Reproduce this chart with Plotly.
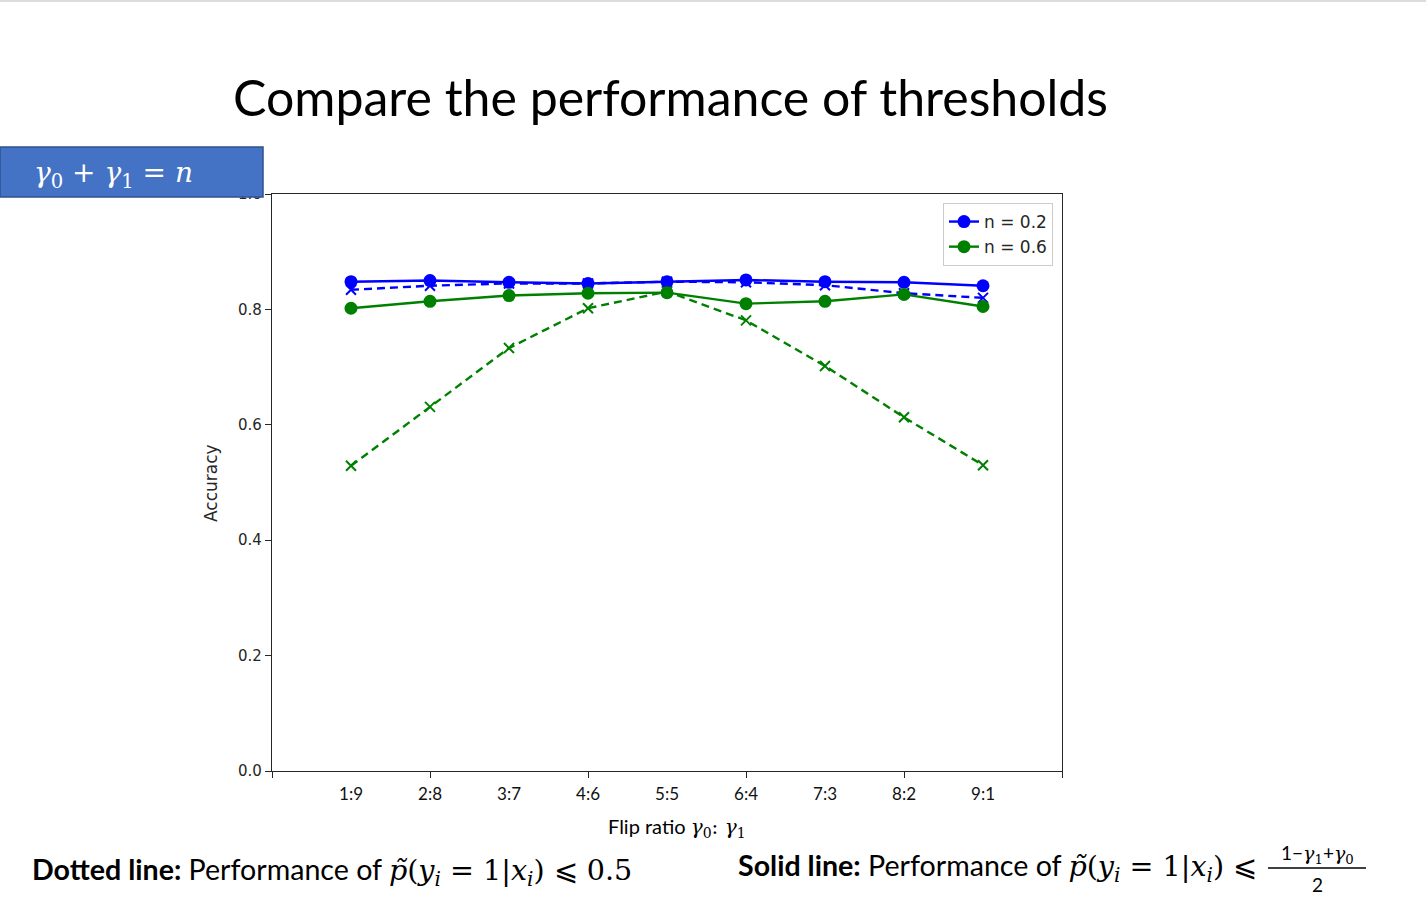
import plotly.graph_objects as go

# flip ratio gamma0:gamma1, points at x = 1..9
ratio_labels = ["1:9", "2:8", "3:7", "4:6", "5:5", "6:4", "7:3", "8:2", "9:1"]
x_pos = [1, 2, 3, 4, 5, 6, 7, 8, 9]

# accuracy
n02_solid = [0.848, 0.850, 0.847, 0.845, 0.848, 0.851, 0.848, 0.847, 0.841]
n02_dotted = [0.834, 0.841, 0.845, 0.845, 0.848, 0.847, 0.842, 0.828, 0.820]
n06_solid = [0.802, 0.814, 0.824, 0.828, 0.829, 0.810, 0.814, 0.826, 0.805]
n06_dotted = [0.529, 0.631, 0.733, 0.802, 0.831, 0.781, 0.702, 0.613, 0.530]

y_ticks = [0.0, 0.2, 0.4, 0.6, 0.8, 1.0]

W, H = 1426, 914
BLUE = "#0000ff"
GREEN = "#008000"
SLIDE_FONT = "Lato"
MATH = "DejaVu Serif"


def px(x):
    return x / W


def py(y):
    return 1 - y / H


fig = go.Figure()

# dotted lines first (underneath), not in the legend
fig.add_trace(go.Scatter(x=x_pos, y=n02_dotted, mode="lines+markers", showlegend=False,
                         line=dict(color=BLUE, width=2.4, dash="8px,5px"),
                         marker=dict(symbol="x-thin-open", size=10, line=dict(color=BLUE, width=2))))
fig.add_trace(go.Scatter(x=x_pos, y=n06_dotted, mode="lines+markers", showlegend=False,
                         line=dict(color=GREEN, width=2.4, dash="8px,5px"),
                         marker=dict(symbol="x-thin-open", size=10, line=dict(color=GREEN, width=2))))
fig.add_trace(go.Scatter(x=x_pos, y=n02_solid, mode="lines+markers", name="n = 0.2",
                         line=dict(color=BLUE, width=2.4), marker=dict(symbol="circle", size=13, color=BLUE)))
fig.add_trace(go.Scatter(x=x_pos, y=n06_solid, mode="lines+markers", name="n = 0.6",
                         line=dict(color=GREEN, width=2.4), marker=dict(symbol="circle", size=13, color=GREEN)))

fig.update_layout(
    width=W, height=H, autosize=False,
    margin=dict(l=0, r=0, t=0, b=0, autoexpand=False),
    paper_bgcolor="white", plot_bgcolor="white",
    font=dict(family="DejaVu Sans", size=15, color="#262626"),
    xaxis=dict(domain=[px(272), px(1062)], range=[0, 10], showgrid=False, zeroline=False,
               automargin=False,
               showline=True, mirror=True, linecolor="#262626", linewidth=1.2,
               tickmode="array", tickvals=x_pos, ticktext=ratio_labels, ticks="",
               tickfont=dict(family=SLIDE_FONT, size=17, color="#111"), ticklabelstandoff=7,
               minor=dict(ticks="outside", tick0=0, dtick=2, ticklen=6, tickcolor="#262626", tickwidth=1.2)),
    yaxis=dict(domain=[py(771), py(194)], range=[0, 1.0], showgrid=False, zeroline=False,
               automargin=False,
               showline=True, mirror=True, linecolor="#262626", linewidth=1.2,
               tickmode="array", tickvals=y_ticks, tickformat=".1f",
               ticks="outside", ticklen=6, tickcolor="#262626", tickwidth=1.2,
               tickfont=dict(family="DejaVu Sans", size=15, color="#262626")),
    legend=dict(x=px(1053), y=py(203), xanchor="right", yanchor="top",
                bgcolor="white", bordercolor="#cccccc", borderwidth=1,
                font=dict(family="DejaVu Sans", size=17, color="#262626")),
)

shapes = [
    # thin rule at top of slide
    dict(type="line", xref="paper", yref="paper", x0=0, x1=1, y0=py(1), y1=py(1),
         line=dict(color="#d0d0d0", width=1.5)),
    # blue label box
    dict(type="rect", xref="paper", yref="paper", x0=0, x1=px(263), y0=py(197), y1=py(147),
         fillcolor="#4472C4", line=dict(color="#2F528F", width=1.5), layer="above"),
    # fraction bar
    dict(type="line", xref="paper", yref="paper", x0=px(1268), x1=px(1366), y0=py(868), y1=py(868),
         line=dict(color="black", width=1.5)),
]
fig.update_layout(shapes=shapes)


def m(s):
    return f'<span style="font-family:{MATH}">{s}</span>'


annotations = [
    dict(text="Compare the performance of thresholds", x=px(670), y=py(97),
         font=dict(family=SLIDE_FONT, size=50, color="black")),
    dict(text=m("<i>γ</i><sub>0</sub> + <i>γ</i><sub>1</sub> = <i>n</i>"), x=px(113), y=py(174),
         font=dict(size=28, color="white")),
    dict(text="Accuracy", x=px(211), y=py(483), textangle=-90,
         font=dict(family="DejaVu Sans", size=17, color="#262626")),
    dict(text="Flip ratio " + m("<i>γ</i><sub>0</sub>: <i>γ</i><sub>1</sub>"), x=px(677), y=py(827),
         font=dict(family=SLIDE_FONT, size=20, color="black")),
    dict(text="<b>Dotted line:</b> Performance of "
              + m("<i>p̃</i>(<i>y<sub>i</sub></i> = 1|<i>x<sub>i</sub></i>) ⩽ 0.5"),
         x=px(30), y=py(871), xanchor="left",
         font=dict(family=SLIDE_FONT, size=28.6, color="black")),
    dict(text="<b>Solid line:</b> Performance of "
              + m("<i>p̃</i>(<i>y<sub>i</sub></i> = 1|<i>x<sub>i</sub></i>) ⩽"),
         x=px(736), y=py(867), xanchor="left",
         font=dict(family=SLIDE_FONT, size=28.6, color="black")),
    dict(text="1−" + m("<i>γ</i><sub>1</sub>") + "+" + m("<i>γ</i><sub>0</sub>"), x=px(1317), y=py(854),
         font=dict(family=SLIDE_FONT, size=19, color="black")),
    dict(text="2", x=px(1317), y=py(884),
         font=dict(family=SLIDE_FONT, size=19, color="black")),
]
for a in annotations:
    a.setdefault("xanchor", "center")
    a.update(xref="paper", yref="paper", yanchor="middle", showarrow=False)
fig.update_layout(annotations=annotations)

# drop the page's default body margin so the slide sits at the window corner
fig.write_html("out.html", config={"displayModeBar": False},
               post_script="document.body.style.margin='0';")
